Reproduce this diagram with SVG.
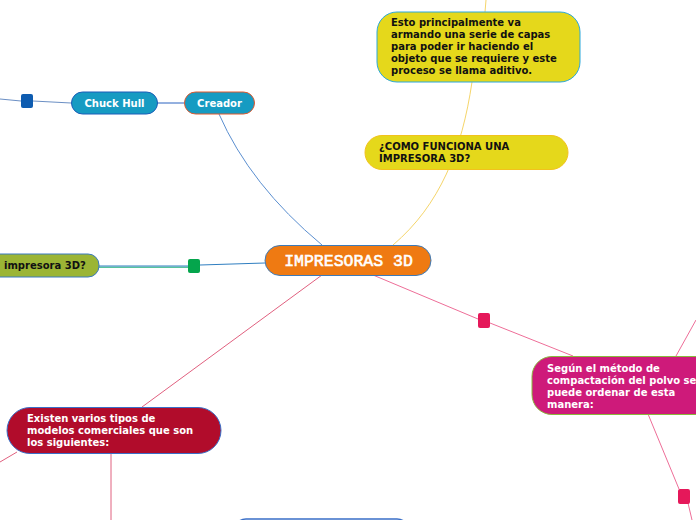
<svg xmlns="http://www.w3.org/2000/svg" width="696" height="520" viewBox="0 0 696 520">
<style>
.t{font-family:"DejaVu Sans",Verdana,sans-serif;font-weight:bold;font-size:10px}
.w{fill:#ffffff}
.k{fill:#111111}
.ln{fill:none;stroke-width:1}
</style>
<rect width="696" height="520" fill="#ffffff"/>
<g id="connectors">
<path class="ln" d="M0,99 L21,101" stroke="#6b8fc4"/>
<path class="ln" d="M33,101 L71,103" stroke="#6b8fc4" stroke-width="1.5"/>
<path class="ln" d="M157,103 L184,103" stroke="#2a62c0" stroke-width="1.5"/>
<path class="ln" d="M219,114 Q250,185 322,245" stroke="#5b8fd0"/>
<path class="ln" d="M393,245 C440,205 462,150 472,82" stroke="#f5d56a"/>
<path class="ln" d="M485,12 L486,0" stroke="#f5d56a"/>
<path class="ln" d="M99,267.2 L188,267.2" stroke="#0da872" stroke-width="1"/>
<path class="ln" d="M99,266 L188,266" stroke="#2f7ec0" stroke-width="1.5"/>
<path class="ln" d="M200,265 L265,263" stroke="#2f7ec0" stroke-width="1.5"/>
<path class="ln" d="M322,275 L142,407" stroke="#e0607f"/>
<path class="ln" d="M17,452 L0,462" stroke="#e0607f"/>
<path class="ln" d="M111,453 L111,520" stroke="#e0607f"/>
<path class="ln" d="M373,275 L478,319" stroke="#ee6e98"/>
<path class="ln" d="M490,323 L573,356" stroke="#ee6e98"/>
<path class="ln" d="M648,414 L679,489" stroke="#ee6e98"/>
<path class="ln" d="M688,503 L692,520" stroke="#ee6e98"/>
<path class="ln" d="M676,356 L696,320" stroke="#ee6e98"/>
</g>
<g id="markers">
<rect x="21" y="94" width="12" height="14" rx="2" fill="#0e5cb0"/>
<rect x="188" y="259" width="12" height="14" rx="2" fill="#04a54c"/>
<rect x="478" y="313" width="12" height="15" rx="2" fill="#e5185a"/>
<rect x="678" y="489" width="12" height="15" rx="2" fill="#e5185a"/>
</g>
<g id="n-central">
<rect x="265" y="245.5" width="166" height="30" rx="15" fill="#ef7a12" stroke="#3d7ab8" stroke-width="1"/>
<text x="348.5" y="265.5" text-anchor="middle" fill="#ffffff" stroke="#ffffff" stroke-width="0.6" font-family="'Liberation Mono','Courier New',monospace" font-size="16.5">IMPRESORAS 3D</text>
</g>
<g id="n-creador">
<rect x="184.5" y="92" width="70" height="22" rx="11" fill="#169bc2" stroke="#e0582c" stroke-width="1"/>
<text class="t w" x="219.5" y="107" text-anchor="middle">Creador</text>
</g>
<g id="n-chuck">
<rect x="71.5" y="92" width="86" height="22" rx="11" fill="#169bc2" stroke="#1a5cb8" stroke-width="1"/>
<text class="t w" x="114.5" y="107" text-anchor="middle">Chuck Hull</text>
</g>
<g id="n-aditivo">
<rect x="377" y="12" width="203" height="70" rx="20" fill="#e5d81b" stroke="#2aa8dc" stroke-width="1"/>
<text class="t k" x="391" y="26">Esto principalmente va</text>
<text class="t k" x="391" y="38">armando una serie de capas</text>
<text class="t k" x="391" y="50">para poder ir haciendo el</text>
<text class="t k" x="391" y="62">objeto que se requiere y este</text>
<text class="t k" x="391" y="74">proceso se llama aditivo.</text>
</g>
<g id="n-como">
<rect x="365" y="135.5" width="203" height="34" rx="17" fill="#e5d81b" stroke="#f2c21c" stroke-width="1"/>
<text class="t k" x="379" y="150">¿COMO FUNCIONA UNA</text>
<text class="t k" x="379" y="162">IMPRESORA 3D?</text>
</g>
<g id="n-impresora">
<rect x="-12" y="254" width="111" height="23" rx="11" fill="#9bb535" stroke="#3a7ac0" stroke-width="1"/>
<text class="t k" x="4" y="269">impresora 3D?</text>
</g>
<g id="n-modelos">
<rect x="7" y="407.5" width="214" height="46" rx="23" fill="#b10c2b" stroke="#3a6fc8" stroke-width="1"/>
<text class="t w" x="27" y="422">Existen varios tipos de</text>
<text class="t w" x="27" y="434">modelos comerciales que son</text>
<text class="t w" x="27" y="446">los siguientes:</text>
</g>
<g id="n-bottom">
<rect x="234" y="519" width="175" height="30" rx="12" fill="#ffffff" stroke="#3a6fc8" stroke-width="1.5"/>
</g>
<g id="n-compactacion">
<rect x="532" y="356.5" width="190" height="58" rx="20" fill="#ce1a7a" stroke="#8ab83c" stroke-width="1"/>
<text class="t w" x="547" y="372">Según el método de</text>
<text class="t w" x="547" y="384">compactación del polvo se</text>
<text class="t w" x="547" y="396">puede ordenar de esta</text>
<text class="t w" x="547" y="408">manera:</text>
</g>
</svg>
